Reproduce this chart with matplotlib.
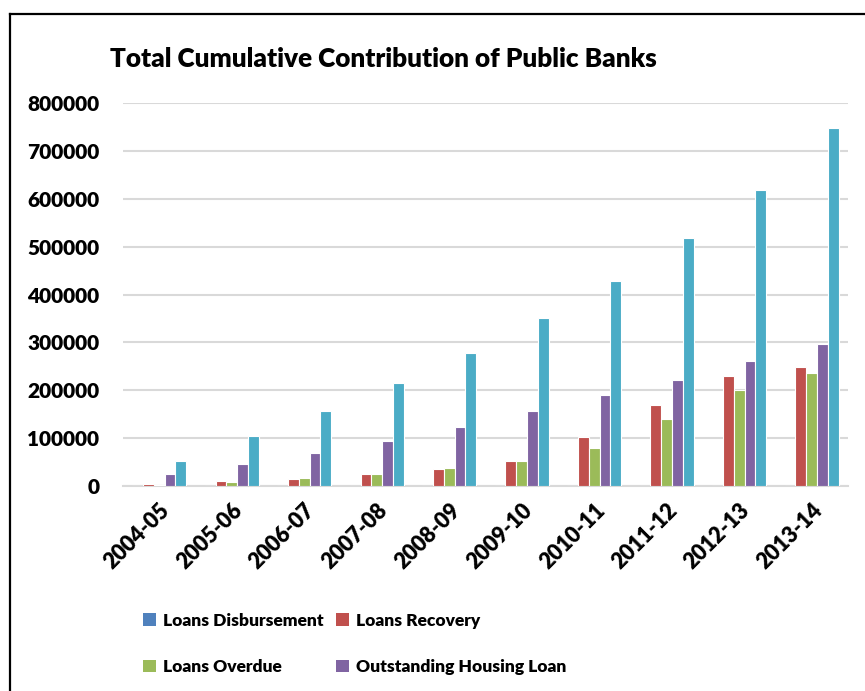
import matplotlib
matplotlib.use("Agg")
import matplotlib.pyplot as plt
from matplotlib.patches import Patch
from matplotlib.lines import Line2D
import numpy as np

plt.rcParams['font.family'] = ['Lato', 'DejaVu Sans']
plt.rcParams['font.weight'] = 'heavy'

years = ['2004-05', '2005-06', '2006-07', '2007-08', '2008-09',
         '2009-10', '2010-11', '2011-12', '2012-13', '2013-14']

# cumulative figures per year
disbursement = [0, 0, 0, 0, 0, 0, 0, 0, 0, 0]
recovery = [4000, 10000, 15000, 26000, 36000, 51500, 103000, 168500, 229600, 247800]
overdue = [3000, 9000, 16000, 26000, 37500, 53000, 80000, 140500, 199800, 235300]
outstanding = [25000, 46500, 69000, 93000, 123000, 156500, 190000, 220700, 261600, 296500]
cumulative = [51500, 103700, 157000, 215000, 277000, 350000, 428000, 518000, 618000, 748000]

labels = ['Loans Disbursement', 'Loans Recovery', 'Loans Overdue',
          'Outstanding Housing Loan']
colors = ['#4F81BD', '#C0504D', '#9BBB59', '#8064A2', '#4BACC6']

fig = plt.figure(figsize=(8.65, 6.91), dpi=100)
ax = fig.add_axes([0.1422, 0.2967, 0.838, 0.5542])

x = np.arange(len(years))
w = 0.149
series = [disbursement, recovery, overdue, outstanding, cumulative]
for i, vals in enumerate(series):
    ax.bar(x + (i - 2) * w, vals, width=w, color=colors[i],
           edgecolor='white', linewidth=0.8, zorder=3)

ax.set_xlim(-0.5, len(years) - 0.5)
ax.set_ylim(0, 800000)
ax.set_yticks(np.arange(0, 800001, 100000))
ax.set_yticklabels([str(v) for v in range(0, 800001, 100000)])
ax.yaxis.grid(True, color='#D9D9D9', linewidth=1.5, zorder=0)
ax.set_axisbelow(True)
for s in ['top', 'right', 'left']:
    ax.spines[s].set_visible(False)
ax.spines['bottom'].set_color('#D9D9D9')
ax.spines['bottom'].set_linewidth(1.5)
ax.tick_params(axis='y', length=0, pad=17, labelsize=15)
ax.tick_params(axis='x', length=0, pad=10, labelsize=15.5)
ax.set_xticks(x)
ax.set_xticklabels(years, rotation=45, ha='right', rotation_mode='anchor')

fig.text(0.127, 0.9146, 'Total Cumulative Contribution of Public Banks',
         fontsize=18.8, va='center', ha='left')

# legend fills column by column, so order entries to read across rows
order = [0, 2, 1, 3]
handles = [Patch(facecolor=colors[i]) for i in order]
fig.legend(handles, [labels[i] for i in order], ncol=2, loc='upper left',
           bbox_to_anchor=(0.147, 0.136), frameon=False, fontsize=12.5,
           handlelength=0.75, handleheight=0.75, handletextpad=0.4,
           columnspacing=0.75, labelspacing=1.75)

# page frame around the chart
fig.add_artist(Line2D([0.0116, 0.0116], [0, 0.9797], color='black',
                      linewidth=1.6, transform=fig.transFigure))
fig.add_artist(Line2D([0.0116, 1.0], [0.9797, 0.9797], color='black',
                      linewidth=1.6, transform=fig.transFigure))

fig.savefig('out.png', dpi=100)
